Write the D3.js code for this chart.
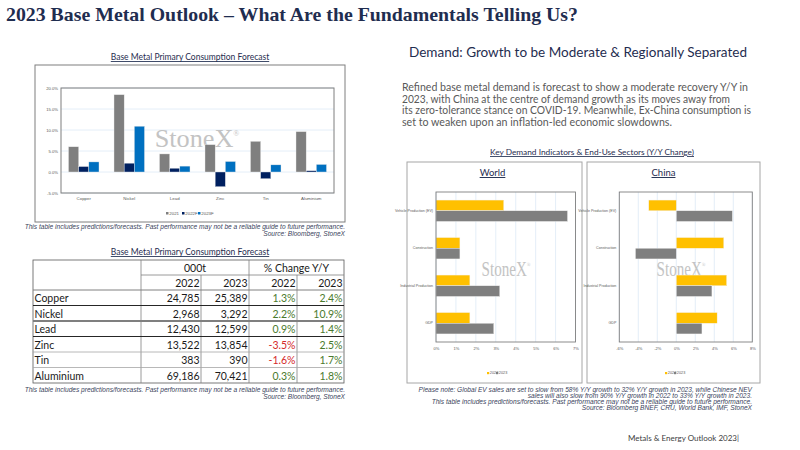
<!DOCTYPE html>
<html>
<head>
<meta charset="utf-8">
<script src="https://cdn.jsdelivr.net/npm/d3@7"></script>
<style>
  body { margin: 0; background: #fff; }
  svg { display: block; }
</style>
</head>
<body>
<svg id="slide" width="800" height="450" font-family="Lato, 'Open Sans', sans-serif"></svg>
<script>
// ---- consumption growth chart
const metals = ["Copper", "Nickel", "Lead", "Zinc", "Tin", "Aluminium"];
const seriesNames = ["2021", "2022F", "2023F"];
const growth2021 = [6.0, 18.4, 4.3, 6.5, 7.3, 9.6];
const growth2022F = [1.3, 2.1, 0.9, -3.5, -1.6, 0.3];
const growth2023F = [2.4, 10.9, 1.4, 2.5, 1.7, 1.8];
const growthTicks = [-5, 0, 5, 10, 15, 20];

// ---- consumption table
const tonnes2022 = [24785, 2968, 12430, 13522, 383, 69186];
const tonnes2023 = [25389, 3292, 12599, 13854, 390, 70421];
const change2022 = [1.3, 2.2, 0.9, -3.5, -1.6, 0.3];
const change2023 = [2.4, 10.9, 1.4, 2.5, 1.7, 1.8];

// ---- demand indicators
const sectors = ["Vehicle Production (EV)", "Construction", "Industrial Production", "GDP"];
const indicatorYears = ["2022", "2023"];
const world2022 = [3.4, 1.2, 1.7, 1.7];
const world2023 = [6.6, 1.2, 3.2, 2.9];
const china2022 = [-2.9, 5.0, 5.3, 4.3];
const china2023 = [5.9, -4.3, 3.75, 2.7];
const worldTicks = [0, 1, 2, 3, 4, 5, 6, 7];
const chinaTicks = [-6, -4, -2, 0, 2, 4, 6, 8];

const NAVY = "#1f2d50";
const SERIF = "'Liberation Serif', 'DejaVu Serif', serif";
const ARIAL = "'Liberation Sans', Arial, sans-serif";
const svg = d3.select("#slide");
svg.append("rect").attr("width", 800).attr("height", 450).attr("fill", "#fff");

// title
svg.append("text")
    .attr("x", 6).attr("y", 21)
    .attr("font-family", SERIF)
    .attr("font-weight", "bold")
    .attr("font-size", 19)
    .attr("fill", NAVY)
    .attr("textLength", 572).attr("lengthAdjust", "spacingAndGlyphs")
    .text("2023 Base Metal Outlook \u2013 What Are the Fundamentals Telling Us?");

function underlinedTitle(g, x, y, txt, size) {
    return g.append("text")
        .attr("x", x).attr("y", y)
        .attr("text-anchor", "middle")
        .attr("font-size", size)
        .attr("fill", NAVY)
        .attr("text-decoration", "underline")
        .text(txt);
}

function noteLines(g, xRight, y0, lines, step) {
    lines.forEach((l, i) => {
        g.append("text")
            .attr("x", xRight).attr("y", y0 + i * step)
            .attr("text-anchor", "end")
            .attr("font-family", ARIAL)
            .attr("font-style", "italic")
            .attr("font-size", 6.6)
            .attr("fill", "#3a3f5c")
            .text(l);
    });
}

function watermark(g, x, y, size, squeeze) {
    let t = g.append("text")
        .attr("x", x).attr("y", y)
        .attr("text-anchor", "middle")
        .attr("font-family", SERIF)
        .attr("font-size", size)
        .attr("fill", "#bdbdbd")
        .attr("opacity", 0.9)
        .attr("transform", `translate(${x},0) scale(${squeeze},1) translate(${-x},0)`)
        .text("StoneX");
    t.append("tspan").attr("font-size", size * 0.3).attr("dy", -size * 0.45).text("\u00ae");
}

// ================= left: bar chart =================
const left = svg.append("g");
underlinedTitle(left, 190, 60, "Base Metal Primary Consumption Forecast", 8.5);
left.append("rect").attr("x", 35).attr("y", 65).attr("width", 310).attr("height", 157)
    .attr("fill", "#fff").attr("stroke", "#7f7f7f").attr("stroke-width", 1);

const bx = d3.scaleBand().domain(metals).range([61, 334]);
const bsub = d3.scaleBand().domain(seriesNames).range([bx.bandwidth() * 0.165, bx.bandwidth() * 0.835]);
const by = d3.scaleLinear().domain([-5, 20]).range([193, 88]);
const barColors = d3.scaleOrdinal().domain(seriesNames).range(["#7f7f7f", "#002060", "#0070c0"]);
const seriesValues = [growth2021, growth2022F, growth2023F];

left.append("g").selectAll("line").data(growthTicks).join("line")
    .attr("x1", 61).attr("x2", 334)
    .attr("y1", d => by(d)).attr("y2", d => by(d))
    .attr("stroke", "#ddeaf6").attr("stroke-width", 0.8);

watermark(left, 197, 147, 25, 1.05);

const barData = [];
metals.forEach((m, i) => seriesNames.forEach((s, j) => barData.push({ m, s, v: seriesValues[j][i] })));
left.append("g").selectAll("rect").data(barData).join("rect")
    .attr("x", d => bx(d.m) + bsub(d.s))
    .attr("width", bsub.bandwidth())
    .attr("y", d => by(Math.max(0, d.v)))
    .attr("height", d => Math.abs(by(d.v) - by(0)))
    .attr("fill", d => barColors(d.s))
    .attr("stroke", "#e8e8e8").attr("stroke-width", 0.4);

left.append("rect").attr("x", 61).attr("y", 88).attr("width", 273).attr("height", 105)
    .attr("fill", "none").attr("stroke", "#7f7f7f").attr("stroke-width", 1);

const byAxis = left.append("g").attr("transform", "translate(61,0)")
    .call(d3.axisLeft(by).tickValues(growthTicks).tickSize(0).tickPadding(3).tickFormat(d => d.toFixed(1) + "%"));
byAxis.select(".domain").remove();
byAxis.selectAll("text").attr("font-size", 4.2).attr("fill", "#595959").attr("font-family", ARIAL);

const bxAxis = left.append("g").attr("transform", "translate(0,193)")
    .call(d3.axisBottom(bx).tickSize(0).tickPadding(4));
bxAxis.select(".domain").remove();
bxAxis.selectAll("text").attr("font-size", 4.4).attr("fill", "#595959").attr("font-family", ARIAL);

// legend
const bleg = left.append("g").attr("transform", "translate(166,214)");
seriesNames.forEach((s, i) => {
    const gx = i * 16;
    bleg.append("rect").attr("x", gx).attr("y", -2).attr("width", 2.5).attr("height", 2.5).attr("fill", barColors(s));
    bleg.append("text").attr("x", gx + 3.3).attr("y", 0.6).attr("font-size", 4.4).attr("fill", "#595959")
        .attr("font-family", ARIAL).text(s);
});

noteLines(left, 345, 229, ["This table includes predictions/forecasts. Past performance  may not be a reliable guide  to future performance.",
    "Source: Bloomberg,  StoneX"], 6.8);

// ================= left: table =================
const tbl = svg.append("g");
underlinedTitle(tbl, 190, 255, "Base Metal Primary Consumption Forecast", 8.5);
const colX = [33, 141, 201, 249, 297, 344];
const rowY = [260, 275, 290, 305.5, 321, 336.5, 352, 367.5, 383];
const fmtT = d3.format(",");
const fmtP = d => d.toFixed(1) + "%";

tbl.append("rect").attr("x", colX[0]).attr("y", rowY[0]).attr("width", colX[5] - colX[0]).attr("height", rowY[8] - rowY[0])
    .attr("fill", "none").attr("stroke", "#595959").attr("stroke-width", 0.8);

// vertical lines
[1, 3].forEach(c => tbl.append("line").attr("x1", colX[c]).attr("x2", colX[c]).attr("y1", rowY[0]).attr("y2", rowY[8])
    .attr("stroke", "#808080").attr("stroke-width", 0.8));
[2, 4].forEach(c => tbl.append("line").attr("x1", colX[c]).attr("x2", colX[c]).attr("y1", rowY[1]).attr("y2", rowY[8])
    .attr("stroke", "#808080").attr("stroke-width", 0.8));
tbl.append("line").attr("x1", colX[1]).attr("x2", colX[5]).attr("y1", rowY[1]).attr("y2", rowY[1])
    .attr("stroke", "#808080").attr("stroke-width", 0.8);

const rowRule = [
    { c: "#808080", w: 1.0 }, { c: "#262626", w: 1.2 }, { c: "#7f7f7f", w: 1.8 },
    { c: "#262626", w: 1.0 }, { c: "#a6a6a6", w: 0.8 }, { c: "#a6a6a6", w: 0.8 }
];
rowRule.forEach((r, i) => tbl.append("line").attr("x1", colX[0]).attr("x2", colX[5])
    .attr("y1", rowY[i + 2]).attr("y2", rowY[i + 2]).attr("stroke", r.c).attr("stroke-width", r.w));

const cellText = (x, y, txt, anchor, color) => tbl.append("text")
    .attr("x", x).attr("y", y).attr("text-anchor", anchor).attr("font-size", 10.5)
    .attr("fill", color).text(txt);

cellText((colX[1] + colX[3]) / 2, rowY[1] - 3.5, "000t", "middle", "#1a1a1a");
cellText((colX[3] + colX[5]) / 2, rowY[1] - 3.5, "% Change Y/Y", "middle", "#1a1a1a");
["2022", "2023", "2022", "2023"].forEach((y, i) => cellText(colX[i + 2] - 1.5, rowY[2] - 3.5, y, "end", "#1a1a1a"));

const GREEN = "#4a7a2c", RED = "#d42a2a";
metals.forEach((m, i) => {
    const yb = rowY[i + 3] - 3.5;
    cellText(colX[0] + 1.5, yb, m, "start", "#1a1a1a");
    cellText(colX[2] - 1.5, yb, fmtT(tonnes2022[i]), "end", "#1a1a1a");
    cellText(colX[3] - 1.5, yb, fmtT(tonnes2023[i]), "end", "#1a1a1a");
    cellText(colX[4] - 1.5, yb, fmtP(change2022[i]), "end", change2022[i] < 0 ? RED : GREEN);
    cellText(colX[5] - 1.5, yb, fmtP(change2023[i]), "end", change2023[i] < 0 ? RED : GREEN);
});

noteLines(tbl, 345, 392, ["This table includes predictions/forecasts. Past performance  may not be a reliable guide  to future performance.",
    "Source: Bloomberg,  StoneX"], 6.8);

// ================= right: text =================
const right = svg.append("g");
right.append("text").attr("x", 409).attr("y", 57).attr("font-size", 14.2).attr("fill", NAVY)
    .attr("textLength", 338).attr("lengthAdjust", "spacingAndGlyphs")
    .text("Demand: Growth to be Moderate & Regionally Separated");

const para = [
    "Refined base metal demand is forecast to show a moderate recovery Y/Y in",
    "2023, with China at the centre of demand growth as its moves away from",
    "its zero-tolerance stance on COVID-19. Meanwhile, Ex-China consumption is",
    "set to weaken upon an inflation-led economic slowdowns."
];
const paraW = [346, 328, 349, 270];
para.forEach((l, i) => right.append("text").attr("x", 402).attr("y", 91 + i * 11.6)
    .attr("font-size", 10.6).attr("fill", "#595959")
    .attr("textLength", paraW[i]).attr("lengthAdjust", "spacingAndGlyphs")
    .text(l));

underlinedTitle(right, 592, 155, "Key Demand Indicators & End-Use Sectors (Y/Y Change)", 8.3);

// ================= right: indicator panels =================
const yellow = "#ffc000", grey = "#7f7f7f";
const indColors = d3.scaleOrdinal().domain(indicatorYears).range([yellow, grey]);

function panel(cfg) {
    const g = svg.append("g");
    g.append("rect").attr("x", cfg.box[0]).attr("y", 162).attr("width", cfg.box[1] - cfg.box[0]).attr("height", 221)
        .attr("fill", "#fff").attr("stroke", "#a6a6a6").attr("stroke-width", 1);
    underlinedTitle(g, (cfg.box[0] + cfg.box[1]) / 2 + cfg.titleShift, 176, cfg.name, 9.5);

    const x = d3.scaleLinear().domain(cfg.domain).range(cfg.range);
    const y = d3.scaleBand().domain(sectors).range([192, 342]);
    const ysub = d3.scaleBand().domain(indicatorYears).range([y.bandwidth() * 0.215, y.bandwidth() * 0.785]);

    g.append("g").selectAll("line").data(cfg.ticks).join("line")
        .attr("x1", d => x(d)).attr("x2", d => x(d)).attr("y1", 192).attr("y2", 342)
        .attr("stroke", "#ddeaf6").attr("stroke-width", 0.8);

    watermark(g, cfg.wm, 276, 21, 0.72);

    const data = [];
    sectors.forEach((s, i) => {
        data.push({ s, k: "2022", v: cfg.v2022[i] });
        data.push({ s, k: "2023", v: cfg.v2023[i] });
    });
    g.append("g").selectAll("rect").data(data).join("rect")
        .attr("y", d => y(d.s) + ysub(d.k))
        .attr("height", ysub.bandwidth())
        .attr("x", d => x(Math.min(0, d.v)))
        .attr("width", d => Math.abs(x(d.v) - x(0)))
        .attr("fill", d => indColors(d.k))
        .attr("stroke", "#f2f2f2").attr("stroke-width", 0.4);

    g.append("rect").attr("x", cfg.range[0]).attr("y", 192).attr("width", cfg.range[1] - cfg.range[0]).attr("height", 150)
        .attr("fill", "none").attr("stroke", "#7f7f7f").attr("stroke-width", 0.9);

    const xa = g.append("g").attr("transform", "translate(0,342)")
        .call(d3.axisBottom(x).tickValues(cfg.ticks).tickSize(0).tickPadding(5).tickFormat(d => d + "%"));
    xa.select(".domain").remove();
    xa.selectAll("text").attr("font-size", 4).attr("fill", "#595959").attr("font-family", ARIAL);

    const ya = g.append("g").attr("transform", `translate(${cfg.range[0]},0)`)
        .call(d3.axisLeft(y).tickSize(0).tickPadding(3));
    ya.select(".domain").remove();
    ya.selectAll("text").attr("font-size", 3.6).attr("fill", "#595959").attr("font-family", ARIAL);

    const lg = g.append("g").attr("transform", `translate(${cfg.leg},374)`);
    indicatorYears.forEach((k, i) => {
        lg.append("rect").attr("x", i * 9).attr("y", -2).attr("width", 2.2).attr("height", 2.2).attr("fill", indColors(k));
        lg.append("text").attr("x", i * 9 + 2.8).attr("y", 0.4).attr("font-size", 3.8).attr("fill", "#595959")
            .attr("font-family", ARIAL).text(k);
    });
}

panel({ name: "World", box: [407, 582], titleShift: -2, domain: [0, 7], range: [436, 575.5], ticks: worldTicks,
    v2022: world2022, v2023: world2023, wm: 506, leg: 487 });
panel({ name: "China", box: [587, 760], titleShift: -10, domain: [-6, 8], range: [619.3, 752.3], ticks: chinaTicks,
    v2022: china2022, v2023: china2023, wm: 681, leg: 665 });

noteLines(right, 752, 391.5, [
    "Please note: Global EV sales are set to slow from 58% Y/Y growth  to 32% Y/Y growth  in 2023, while Chinese NEV",
    "sales will also slow  from 90%  Y/Y growth  in 2022  to 33% Y/Y growth  in 2023.",
    "This table includes predictions/forecasts. Past performance  may not be a reliable guide  to future performance.",
    "Source: Bloomberg  BNEF, CRU, World Bank, IMF, StoneX"
], 6.3);

svg.append("text").attr("x", 628).attr("y", 441).attr("font-size", 8).attr("fill", "#404040")
    .text("Metals & Energy Outlook 2023|");
</script>
</body>
</html>
